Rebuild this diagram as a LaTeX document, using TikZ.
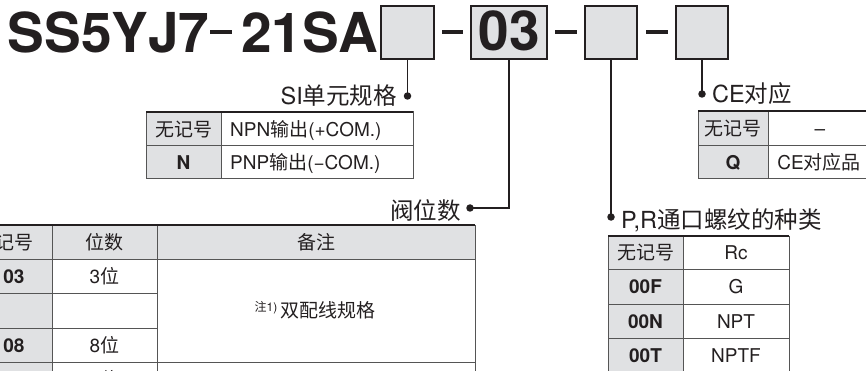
\documentclass[tikz,border=0pt]{standalone}
\usepackage{fontspec}
\setmainfont{TeX Gyre Heros}
\newfontfamily\cjk{Noto Sans CJK SC}
\definecolor{ink}{RGB}{35,31,32}
\definecolor{boxgray}{RGB}{224,225,227}
\definecolor{linegray}{RGB}{85,85,85}
\begin{document}
\begin{tikzpicture}[x=1pt,y=-1pt,
  selbox/.style={draw=ink,line width=2pt,fill=boxgray,inner sep=0pt,minimum height=53pt},
  hyph/.style={draw=ink,line width=3.5pt},
  conn/.style={draw=ink,line width=1.5pt},
  dotn/.style={circle,fill=ink,inner sep=0pt,minimum size=7.5pt},
  lbl/.style={font=\fontsize{23.5}{26}\selectfont,text=ink,inner sep=0pt},
  cell/.style={font=\fontsize{19}{22}\selectfont,text=ink,inner sep=0pt,anchor=base},
  bcell/.style={cell,font=\fontsize{19}{22}\selectfont\bfseries},
  grid/.style={draw=linegray,line width=1pt},
  topline/.style={draw=ink,line width=2pt},
  title/.style={font=\fontsize{55}{60}\selectfont\bfseries,text=ink,inner sep=0pt,anchor=base west}
]
\useasboundingbox (0,0) rectangle (866,371);
\clip (0,0) rectangle (866,371);

% title
\node[title] (t1) at (7.5,52.5) {SS5YJ7};
\draw[hyph] (210,32) -- (232,32);
\node[title] (t2) at (241,52.5) {21SA};

% selection boxes
\node[selbox,minimum width=53pt] (b1) at (407.5,32.5) {};
\draw[hyph] (442,32) -- (463,32);
\node[selbox,minimum width=76pt] (b2) at (509,32.5) {};
\node[title,anchor=base] (n03) at (509,50.5) {03};
\draw[hyph] (555,32) -- (577,32);
\node[selbox,minimum width=52pt] (b3) at (611,32.5) {};
\draw[hyph] (646,32) -- (668,32);
\node[selbox,minimum width=52pt] (b4) at (702,32.5) {};

% connectors
\node[dotn] (d1) at (407.5,96) {};
\draw[conn] (b1.south) -- (d1.center);
\node[dotn] (d2) at (470,208) {};
\draw[conn] (b2.south) |- (d2.center);
\node[dotn] (d3) at (611,217) {};
\draw[conn] (b3.south) -- (d3.center);
\node[dotn] (d4) at (702,94) {};
\draw[conn] (b4.south) -- (d4.center);

% labels
\node[lbl,anchor=base east] (l1) at (397,105) {SI{\cjk 单元规格}};
\node[lbl,anchor=base east] (l2) at (461,219.5) {{\cjk 阀位数}};
\node[lbl,anchor=base west] (l3) at (621,229) {P,R{\cjk 通口螺纹的种类}};
\node[lbl,anchor=base west] (l4) at (712,103) {CE{\cjk 对应}};

% SI table
\fill[boxgray] (146,112) rectangle (221,179);
\draw[grid] (146,112) rectangle (413,179);
\draw[grid] (146,146) -- (413,146);
\draw[grid] (221,112) -- (221,179);
\draw[topline] (146,112) -- (413,112);
\node[cell] (s11) at (183.5,136.5) {\cjk 无记号};
\node[bcell] (s21) at (183.5,170) {N};
\node[cell,anchor=base west] (s12) at (230,136.5) {NPN{\cjk 输出}(+COM.)};
\node[cell,anchor=base west] (s22) at (230,170) {PNP{\cjk 输出}(−COM.)};

% CE table
\fill[boxgray] (698,111) rectangle (768,179);
\draw[grid] (698,111) rectangle (871,179);
\draw[grid] (698,146) -- (871,146);
\draw[grid] (768,111) -- (768,179);
\draw[topline] (698,111) -- (871,111);
\node[cell] (c11) at (733,135.5) {\cjk 无记号};
\node[bcell] (c21) at (733,170) {Q};
\node[cell] (c12) at (820,135.5) {–};
\node[cell] (c22) at (819,170) {CE{\cjk 对应品}};

% valve table
\fill[boxgray] (-40,225) rectangle (475,259);
\fill[boxgray] (-40,259) rectangle (52,400);
\draw[grid] (-40,259) -- (475,259);
\draw[grid] (-40,293) -- (157,293);
\draw[grid] (-40,328) -- (157,328);
\draw[grid] (-40,362) -- (475,362);
\draw[grid] (52,225) -- (52,400);
\draw[grid] (157,225) -- (157,400);
\draw[grid] (475,225) -- (475,400);
\draw[topline] (-40,225) -- (475,225);
\node[cell] (v01) at (5,249) {\cjk 无记号};
\node[cell] (v02) at (104.5,249) {\cjk 位数};
\node[cell] (v03) at (316,249) {\cjk 备注};
\node[bcell] (v11) at (14,283) {03};
\node[cell] (v12) at (104.5,283) {3{\cjk 位}};
\node[bcell] (v31) at (14,352) {08};
\node[cell] (v32) at (104.5,352) {8{\cjk 位}};
\node[bcell] (v41) at (14,386) {09};
\node[cell] (v42) at (104.5,386) {9{\cjk 位}};
\node[cell] (vnote) at (315,317.5) {\raisebox{6pt}{\fontsize{12}{14}\selectfont{\cjk 注}1)}\,{\cjk 双配线规格}};

% P,R table
\fill[boxgray] (608,236) rectangle (683,380);
\draw[grid] (608,269) -- (789,269);
\draw[grid] (608,304) -- (789,304);
\draw[grid] (608,338) -- (789,338);
\draw[grid] (608,236) -- (608,380);
\draw[grid] (683,236) -- (683,380);
\draw[grid] (789,236) -- (789,380);
\draw[topline] (608,236) -- (789,236);
\node[cell] (p11) at (645.5,259.5) {\cjk 无记号};
\node[cell] (p12) at (736,259.5) {Rc};
\node[bcell] (p21) at (645.5,293.5) {00F};
\node[cell] (p22) at (736,293.5) {G};
\node[bcell] (p31) at (645.5,328) {00N};
\node[cell] (p32) at (736,328) {NPT};
\node[bcell] (p41) at (645.5,362) {00T};
\node[cell] (p42) at (736,362) {NPTF};
\end{tikzpicture}
\end{document}
